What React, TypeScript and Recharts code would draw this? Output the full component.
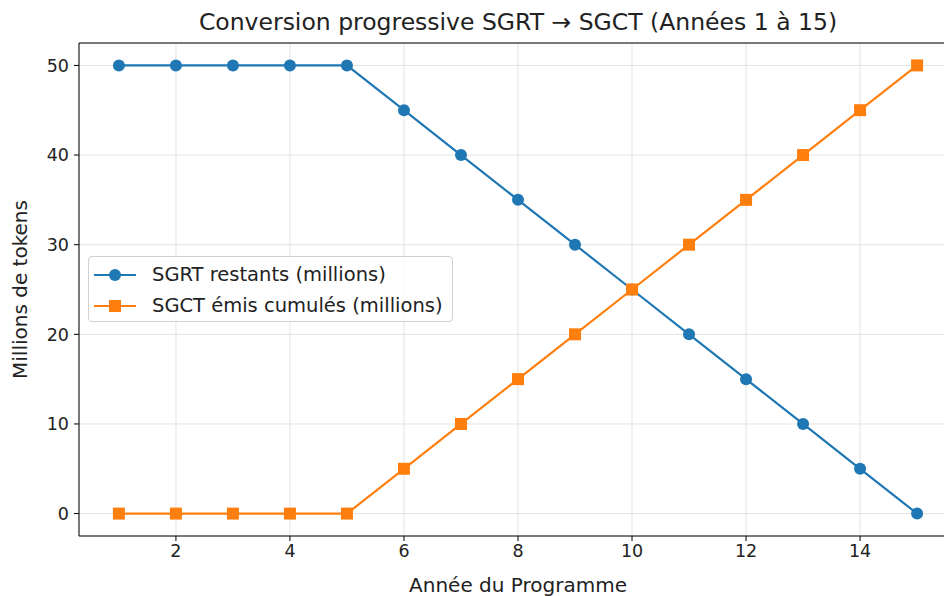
import React from "react";
import {
  CartesianGrid,
  Line,
  LineChart,
  ReferenceLine,
  XAxis,
  YAxis,
} from "recharts";

const years = [1, 2, 3, 4, 5, 6, 7, 8, 9, 10, 11, 12, 13, 14, 15];
const sgrtRemaining = [50, 50, 50, 50, 50, 45, 40, 35, 30, 25, 20, 15, 10, 5, 0];
const sgctIssued = [0, 0, 0, 0, 0, 5, 10, 15, 20, 25, 30, 35, 40, 45, 50];
const xTicks = [2, 4, 6, 8, 10, 12, 14];
const yTicks = [0, 10, 20, 30, 40, 50];

const BLUE = "#1f77b4";
const ORANGE = "#ff7f0e";
const FONT = "'DejaVu Sans', sans-serif";
const TEXT = "#222";

const chartData = years.map((year, i) => ({
  year,
  sgrt: sgrtRemaining[i],
  sgct: sgctIssued[i],
}));

const legendRows = [
  { label: "SGRT restants (millions)", color: BLUE, shape: "circle" },
  { label: "SGCT émis cumulés (millions)", color: ORANGE, shape: "square" },
];

function squareDot(props: any) {
  const { cx, cy, index } = props;
  if (cx == null || cy == null) return <g key={index} />;
  return (
    <rect key={index} x={cx - 6} y={cy - 6} width={12} height={12} fill={ORANGE} />
  );
}

function ChartLegend() {
  return (
    <div
      style={{
        position: "absolute",
        left: 88,
        top: 256,
        width: 365,
        height: 66,
        boxSizing: "border-box",
        border: "1px solid #d0d0d0",
        borderRadius: 4,
        background: "rgba(255,255,255,0.8)",
        padding: "2px 0 0 5px",
        fontFamily: FONT,
        fontSize: 19.5,
        color: TEXT,
        whiteSpace: "nowrap",
      }}
    >
      {legendRows.map((row) => (
        <div
          key={row.label}
          style={{ display: "flex", alignItems: "center", height: 31 }}
        >
          <svg width={42} height={14} style={{ marginRight: 16, flex: "none" }}>
            <line x1={0} y1={7} x2={42} y2={7} stroke={row.color} strokeWidth={2.2} />
            {row.shape === "circle" ? (
              <circle cx={21} cy={7} r={6} fill={row.color} />
            ) : (
              <rect x={15} y={1} width={12} height={12} fill={row.color} />
            )}
          </svg>
          <span>{row.label}</span>
        </div>
      ))}
    </div>
  );
}

export default function App() {
  return (
    <div
      style={{
        position: "fixed",
        left: 0,
        top: 0,
        width: 944,
        height: 596,
        overflow: "hidden",
        background: "#fff",
      }}
    >
      <div
        style={{
          position: "absolute",
          left: 0,
          top: 7,
          width: 1036,
          textAlign: "center",
          fontFamily: FONT,
          fontSize: 23.5,
          lineHeight: "30px",
          color: TEXT,
          whiteSpace: "nowrap",
        }}
      >
        Conversion progressive SGRT → SGCT (Années 1 à 15)
      </div>
      <LineChart
        width={980}
        height={596}
        data={chartData}
        margin={{ top: 43, right: 23, bottom: 0, left: 0 }}
      >
        <CartesianGrid stroke="#e3e3e3" strokeWidth={1} />
        <XAxis
          dataKey="year"
          type="number"
          domain={[0.3, 15.7]}
          ticks={xTicks}
          allowDataOverflow
          height={60}
          stroke="#000"
          tickSize={5}
          tickMargin={4}
          tick={{ fill: TEXT, fontSize: 17.5, fontFamily: FONT }}
          label={{
            value: "Année du Programme",
            position: "insideBottom",
            offset: 4,
            fill: TEXT,
            fontSize: 20,
            fontFamily: FONT,
          }}
        />
        <YAxis
          type="number"
          domain={[-2.5, 52.5]}
          ticks={yTicks}
          allowDataOverflow
          width={79}
          stroke="#000"
          tickSize={5}
          tickMargin={5}
          tick={{ fill: TEXT, fontSize: 17.5, fontFamily: FONT }}
          label={{
            value: "Millions de tokens",
            angle: -90,
            position: "insideLeft",
            offset: 20,
            style: { textAnchor: "middle" },
            fill: TEXT,
            fontSize: 20,
            fontFamily: FONT,
          }}
        />
        <ReferenceLine y={52.5} stroke="#000" strokeWidth={1} />
        <ReferenceLine x={15.7} stroke="#000" strokeWidth={1} />
        <Line
          dataKey="sgrt"
          stroke={BLUE}
          strokeWidth={2.2}
          dot={{ r: 6, fill: BLUE, stroke: BLUE, strokeWidth: 0 }}
          activeDot={false}
          isAnimationActive={false}
        />
        <Line
          dataKey="sgct"
          stroke={ORANGE}
          strokeWidth={2.2}
          dot={squareDot}
          activeDot={false}
          isAnimationActive={false}
        />
      </LineChart>
      <ChartLegend />
    </div>
  );
}
